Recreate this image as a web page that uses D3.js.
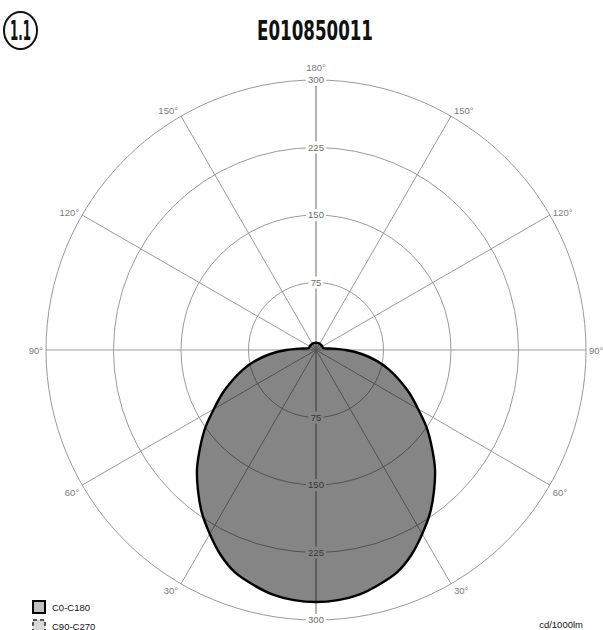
<!DOCTYPE html>
<html>
<head>
<meta charset="utf-8">
<script src="https://cdn.jsdelivr.net/npm/d3@7/dist/d3.min.js"></script>
<style>
  html, body { margin: 0; padding: 0; background: #fff; }
  svg { display: block; }
</style>
</head>
<body>
<svg id="chart" width="603" height="630"></svg>
<script>
// ---- data ----
const gammaAngles = [0,5,10,15,20,25,30,35,40,45,50,55,60,65,70,75,80,85,90,95,100,105,110,120,130,140,150,160,170,180];
const c0c180 =      [280,279,276,270,263,251,236,221,204,187,168,150,131,115,99,84,68,51,33,18,10,8.5,8,8,8,8,8,8,8,8];
const c90c270 =     [280,279,276,270,263,251,236,221,204,187,168,150,131,115,99,84,68,51,33,18,10,8.5,8,8,8,8,8,8,8,8];
const ringTicks = [75,150,225,300];
const angleTicks = [0,30,60,90,120,150,180];
const legendLabels = ["C0-C180","C90-C270"];
const title = "E010850011";
const badge = "1.1";
const unitLabel = "cd/1000lm";

// ---- layout ----
const svg = d3.select("#chart");
const cx = 316, cy = 350;
const r = d3.scaleLinear().domain([0, 300]).range([0, 270]);
const FONT = "'Liberation Sans', Arial, sans-serif";
const g = svg.append("g").attr("transform", `translate(${cx},${cy})`);

// angle measured from downward (0) to upward (180); side = -1 left, +1 right
const pt = (deg, val, side) => {
  const a = deg * Math.PI / 180;
  return [side * Math.sin(a) * r(val), Math.cos(a) * r(val)];
};

// grid rings
const grid = g.append("g");
ringTicks.forEach(t => {
  grid.append("circle").attr("r", r(t)).attr("fill", "none")
    .attr("stroke", "#9a9a9a").attr("stroke-width", 1);
});
// spokes every 30 degrees (both sides)
const spokeAngles = [0,30,60,90,120,150,180];
[-1, 1].forEach(side => {
  spokeAngles.forEach(d => {
    const p = pt(d, 300, side);
    grid.append("line").attr("x1", 0).attr("y1", 0).attr("x2", p[0]).attr("y2", p[1])
      .attr("stroke", "#9a9a9a").attr("stroke-width", 1);
  });
});

// ring labels on vertical axis, with white background
[-1, 1].forEach(dir => {
  ringTicks.forEach(t => {
    const y = dir * r(t);
    const lab = grid.append("g").attr("transform", `translate(0,${y})`);
    const txt = String(t);
    const w = txt.length * 5.4 + 4;
    lab.append("rect").attr("x", -w/2).attr("y", -6).attr("width", w).attr("height", 12).attr("fill", "#fff");
    lab.append("text").attr("text-anchor", "middle").attr("dy", "0.35em")
      .attr("font-family", FONT).attr("font-size", 9.5).attr("fill", "#6a6a6a").text(txt);
  });
});

// angle labels
[-1, 1].forEach(side => {
  angleTicks.forEach(d => {
    if ((d === 0 || d === 180) && side === 1) return;
    const p = pt(d, 300, side);
    const a = d * Math.PI / 180;
    let x, y, anchor;
    if (d === 0 || d === 180) {
      x = 0; anchor = "middle";
      y = d === 180 ? p[1] - 9 : p[1] + 17;
    } else {
      anchor = side < 0 ? "end" : "start";
      x = p[0] + side * 3;
      y = p[1] + 4 + 7 * Math.cos(a) + (d === 60 ? 3 : 0);
    }
    grid.append("text").attr("x", x).attr("y", y).attr("text-anchor", anchor)
      .attr("font-family", FONT).attr("font-size", 9.5).attr("fill", "#7a7a7a").text(d + "°");
  });
});

// photometric curves
const fullCurve = vals => {
  const right = gammaAngles.map((d, i) => ({ ang: Math.PI - d * Math.PI / 180, v: vals[i] }));
  const left = gammaAngles.slice(1, -1).reverse().map(d => {
    const idx = gammaAngles.indexOf(d);
    return { ang: Math.PI + d * Math.PI / 180, v: vals[idx] };
  });
  return right.concat(left);
};
const line = d3.lineRadial().angle(d => d.ang).radius(d => r(d.v)).curve(d3.curveCatmullRomClosed.alpha(0.5));

g.append("path").datum(fullCurve(c90c270)).attr("d", line)
  .attr("fill", "rgba(0,0,0,0.25)").attr("stroke", "#555").attr("stroke-width", 1).attr("stroke-dasharray", "4,3");
g.append("path").datum(fullCurve(c0c180)).attr("d", line)
  .attr("fill", "rgba(0,0,0,0.3)").attr("stroke", "#000").attr("stroke-width", 2.4);

// title + badge
const COND = "'Liberation Sans Narrow','DejaVu Sans Condensed','Liberation Sans',sans-serif";
svg.append("text").attr("x", 315).attr("y", 40).attr("text-anchor", "middle")
  .attr("font-family", COND).attr("font-weight", "bold").attr("font-size", 27)
  .attr("textLength", 116).attr("lengthAdjust", "spacingAndGlyphs").attr("fill", "#111").text(title);
svg.append("ellipse").attr("cx", 20.5).attr("cy", 30.5).attr("rx", 16.5).attr("ry", 18.5)
  .attr("fill", "none").attr("stroke", "#111").attr("stroke-width", 2);
svg.append("text").attr("x", 20.5).attr("y", 40).attr("text-anchor", "middle")
  .attr("font-family", COND).attr("font-weight", "bold").attr("font-size", 26)
  .attr("textLength", 21).attr("lengthAdjust", "spacingAndGlyphs").attr("fill", "#111").text(badge);

// legend
const legendFill = ["#c0c0c0", "#d9d9d9"];
const legendStroke = ["#000", "#555"];
const legendDash = [null, "4,3"];
legendLabels.forEach((lab, i) => {
  const y0 = 601 + i * 19;
  svg.append("rect").attr("x", 33).attr("y", y0).attr("width", 12).attr("height", 12)
    .attr("fill", legendFill[i]).attr("stroke", legendStroke[i]).attr("stroke-width", 2)
    .attr("stroke-dasharray", legendDash[i]);
  svg.append("text").attr("x", 52).attr("y", y0 + 10).attr("font-family", FONT)
    .attr("font-size", 9.5).attr("fill", "#111").text(lab);
});
svg.append("text").attr("x", 583).attr("y", 628).attr("text-anchor", "end")
  .attr("font-family", FONT).attr("font-size", 9.5).attr("fill", "#111").text(unitLabel);
</script>
</body>
</html>
